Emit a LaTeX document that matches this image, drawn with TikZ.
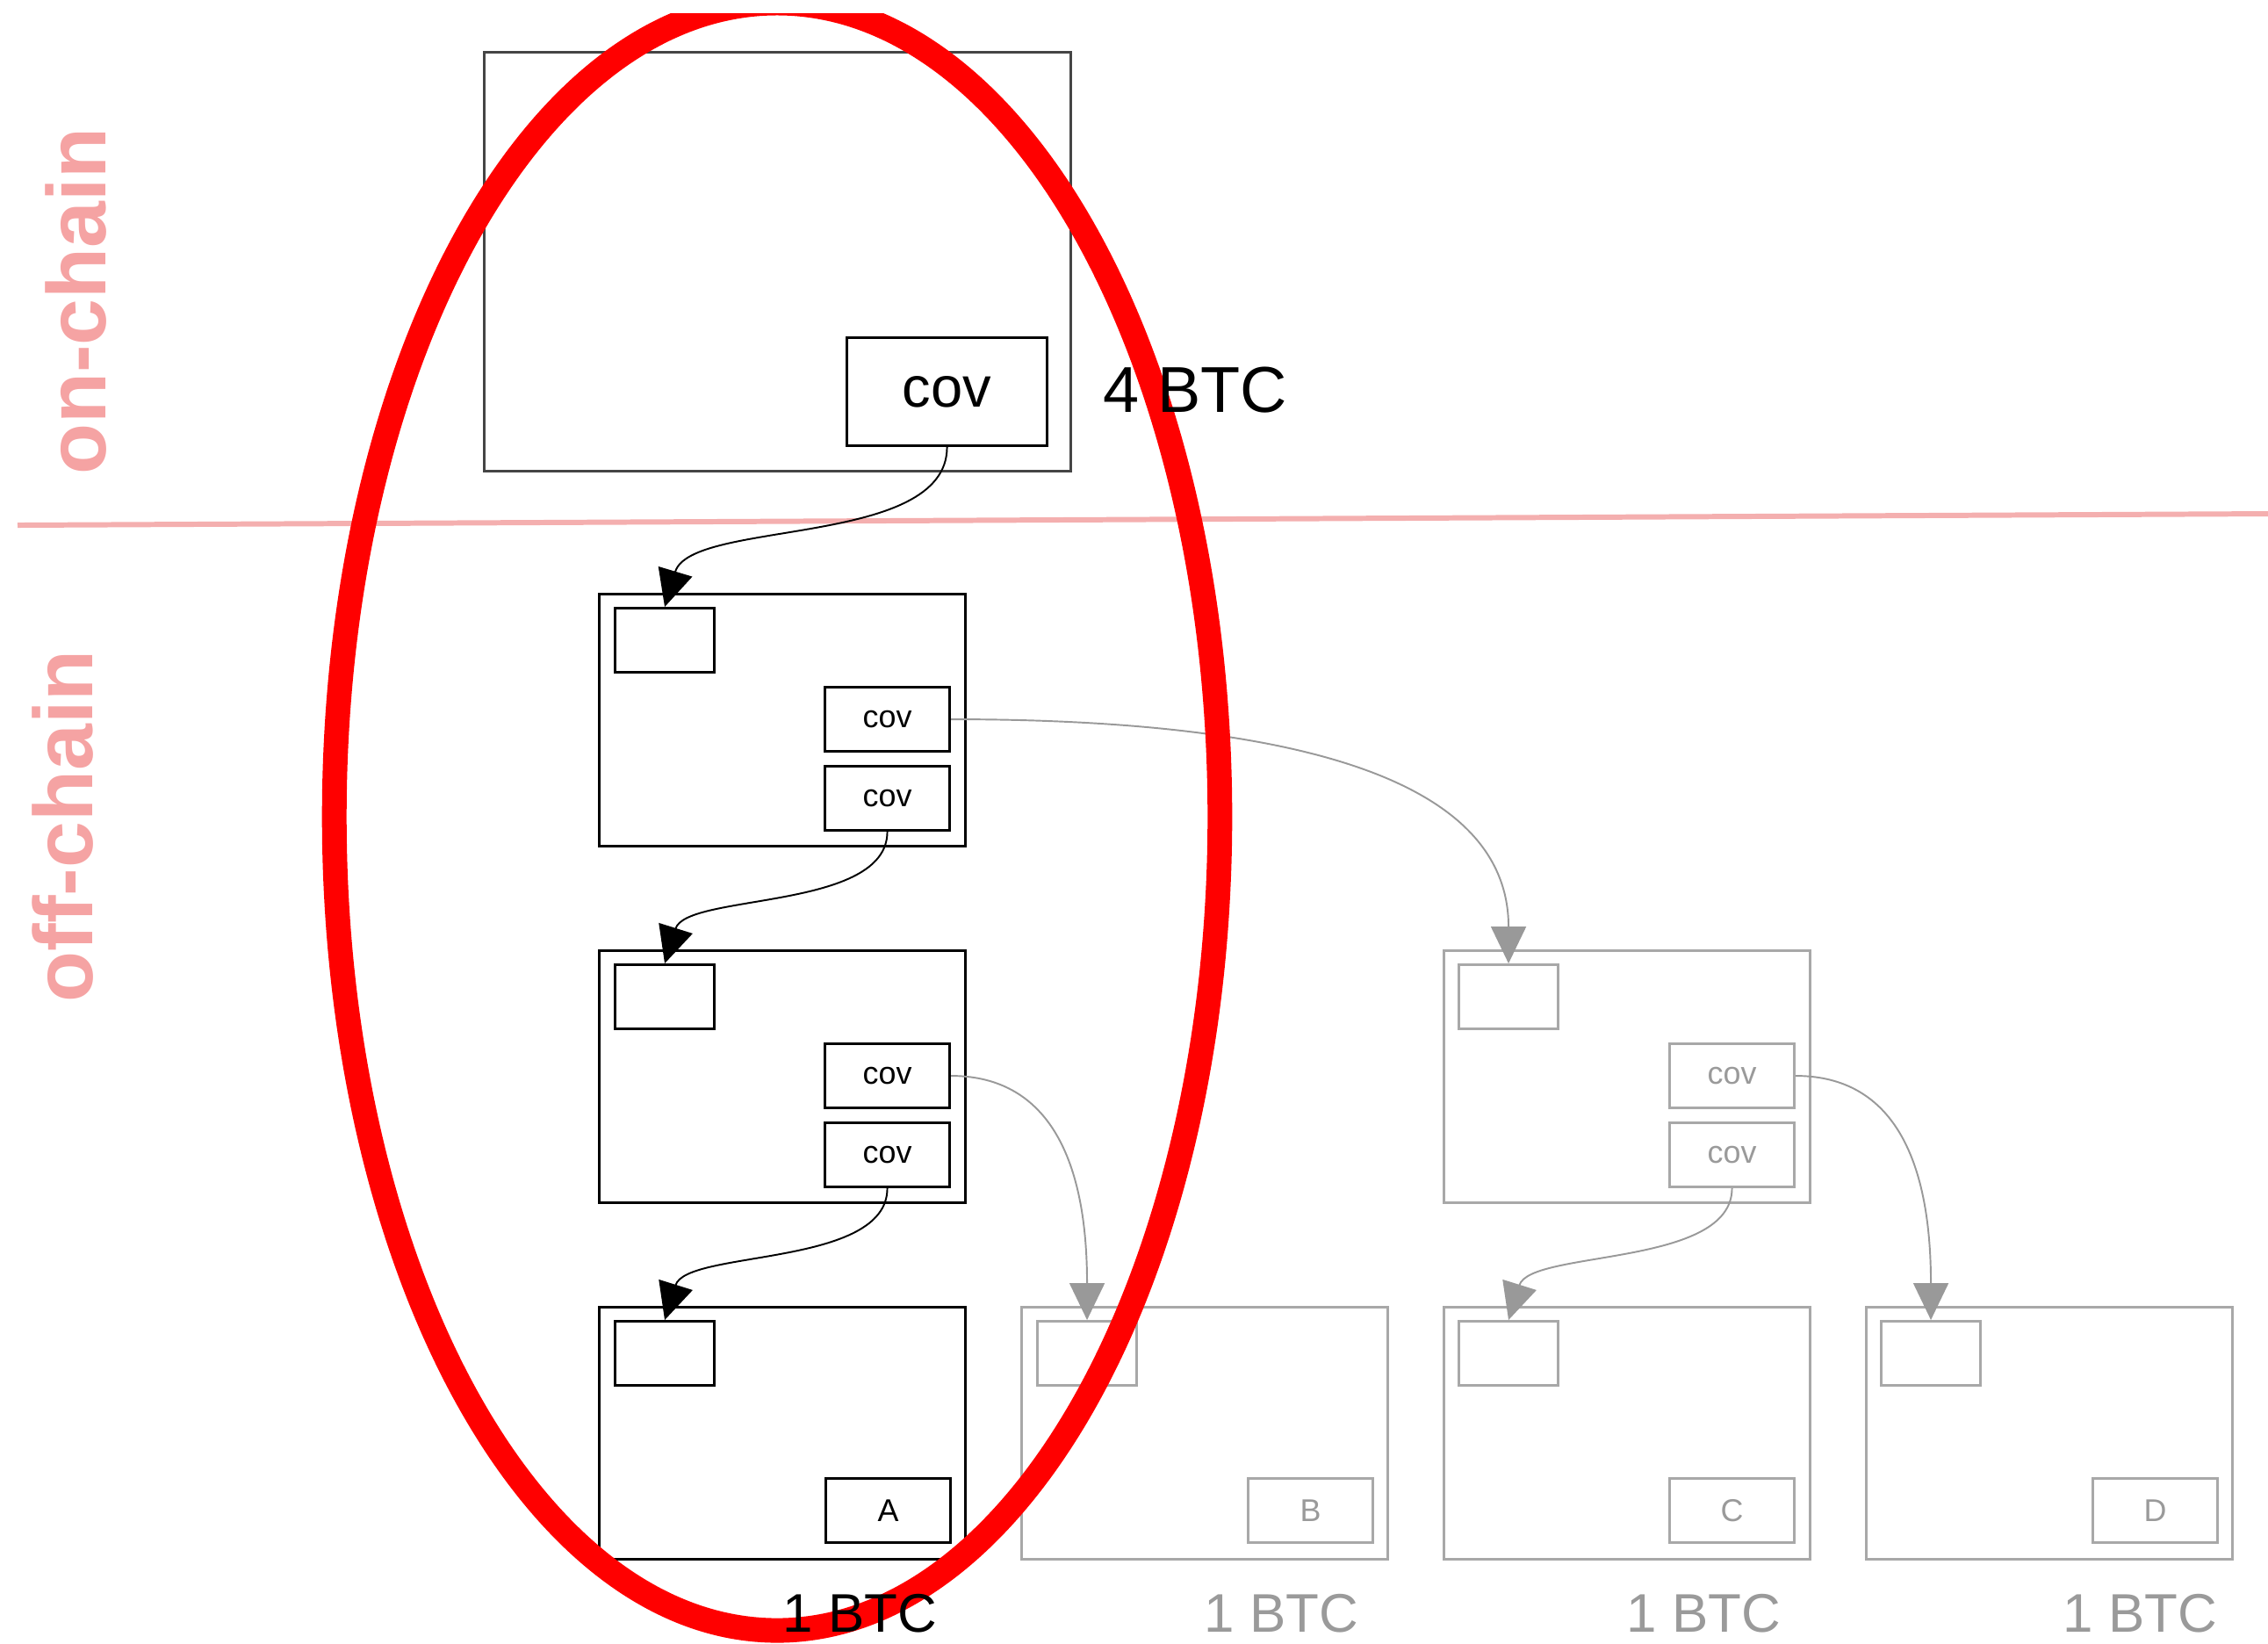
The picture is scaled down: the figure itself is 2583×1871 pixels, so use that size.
\documentclass[tikz,border=0pt]{standalone}
\usepackage{fontspec}
\setmainfont{Liberation Sans}
\usetikzlibrary{arrows.meta}
\definecolor{ghost}{HTML}{A8A8A8}
\definecolor{ghosttext}{HTML}{9A9A9A}
\definecolor{ghostarrow}{HTML}{999999}
\definecolor{chainlabel}{HTML}{F5A3A3}
\definecolor{chainline}{HTML}{F4AFAF}
\definecolor{topedge}{HTML}{454545}
\tikzset{
  box/.style={draw=black, line width=0.85pt, inner sep=0pt, anchor=north west},
  gbox/.style={draw=ghost, line width=0.85pt, inner sep=0pt, anchor=north west},
  bigbox/.style={minimum width=4.17cm, minimum height=2.87cm},
  slot/.style={minimum width=1.13cm, minimum height=0.73cm},
  covbox/.style={minimum width=1.42cm, minimum height=0.73cm, font=\fontsize{10.2pt}{12pt}\selectfont},
  link/.style={line width=0.55pt, -{Triangle[length=0.42cm, width=0.4cm]}},
  glink/.style={link, draw=ghostarrow, -{Triangle[length=0.42cm, width=0.4cm, color=ghostarrow]}},
  btc/.style={anchor=base west, inner sep=0pt, font=\fontsize{17.6pt}{20pt}\selectfont},
  chain/.style={rotate=90, anchor=base, inner sep=0pt, text=chainlabel, font=\fontsize{27pt}{30pt}\selectfont\bfseries}
}
\begin{document}
\begin{tikzpicture}[x=0.01cm, y=-0.01cm]
\useasboundingbox (0,0) rectangle (2583,1871);

% side labels and separator
\node[chain] (on) at (120,343) {on-chain};
\node[chain] (off) at (105,941) {off-chain};
\coordinate (sepL) at (20,598);
\coordinate (sepR) at (2583,585);
\draw[chainline, line width=1.7pt] (sepL) -- (sepR);

% on-chain box
\node[box, draw=topedge, minimum width=6.68cm, minimum height=4.77cm] (T) at (550,58) {};
\node[box, minimum width=2.28cm, minimum height=1.23cm, font=\fontsize{18.5pt}{20pt}\selectfont] (Tcov) at (963,383) {cov};

% level 1
\node[box, bigbox] (L1) at (681,675) {};
\node[box, slot] (L1s) at (699,691) {};
\node[box, covbox] (L1c1) at (938,781) {cov};
\node[box, covbox] (L1c2) at (938,871) {cov};

% level 2
\node[box, bigbox] (L2) at (681,1081) {};
\node[box, slot] (L2s) at (699,1097) {};
\node[box, covbox] (L2c1) at (938,1187) {cov};
\node[box, covbox] (L2c2) at (938,1277) {cov};

\node[gbox, bigbox] (R2) at (1643,1081) {};
\node[gbox, slot] (R2s) at (1660,1097) {};
\node[gbox, covbox, text=ghosttext] (R2c1) at (1900,1187) {cov};
\node[gbox, covbox, text=ghosttext] (R2c2) at (1900,1277) {cov};

% leaves
\node[box, bigbox] (A) at (681,1487) {};
\node[box, slot] (As) at (699,1503) {};
\node[box, covbox] (Av) at (939,1682) {A};

\node[gbox, bigbox] (B) at (1162,1487) {};
\node[gbox, slot] (Bs) at (1180,1503) {};
\node[gbox, covbox, text=ghosttext] (Bv) at (1420,1682) {B};

\node[gbox, bigbox] (C) at (1643,1487) {};
\node[gbox, slot] (Cs) at (1660,1503) {};
\node[gbox, covbox, text=ghosttext] (Cv) at (1900,1682) {C};

\node[gbox, bigbox] (D) at (2124,1487) {};
\node[gbox, slot] (Ds) at (2141,1503) {};
\node[gbox, covbox, text=ghosttext] (Dv) at (2382,1682) {D};

% connectors
\draw[link] (Tcov.south) .. controls ([yshift=-1.15cm]Tcov.south) and ([xshift=0.3cm, yshift=1.0cm]L1s.north) .. (L1s.north);
\draw[link] (L1c2.south) .. controls ([yshift=-0.9cm]L1c2.south) and ([xshift=0.25cm, yshift=0.8cm]L2s.north) .. (L2s.north);
\draw[link] (L2c2.south) .. controls ([yshift=-0.9cm]L2c2.south) and ([xshift=0.25cm, yshift=0.8cm]As.north) .. (As.north);

\draw[glink] (L1c1.east) .. controls ([xshift=4.2cm]L1c1.east) and ([yshift=2.0cm]R2s.north) .. (R2s.north);
\draw[glink] (L2c1.east) .. controls ([xshift=1.0cm]L2c1.east) and ([yshift=2.0cm]Bs.north) .. (Bs.north);
\draw[glink] (R2c2.south) .. controls ([yshift=-0.9cm]R2c2.south) and ([xshift=0.25cm, yshift=0.8cm]Cs.north) .. (Cs.north);
\draw[glink] (R2c1.east) .. controls ([xshift=1.0cm]R2c1.east) and ([yshift=2.0cm]Ds.north) .. (Ds.north);

% highlight (clipped at the top like the reference)
\begin{scope}
  \clip (0,15) rectangle (2583,1871);
  \draw[red, line width=0.28cm] (885,930) ellipse [x radius=5.04cm, y radius=9.26cm];
\end{scope}

% amounts
\node[btc, font=\fontsize{21pt}{24pt}\selectfont] (amtT) at (1256,469) {4 BTC};
\node[btc] (amtA) at (891,1858) {1 BTC};
\node[btc, text=ghosttext] (amtB) at (1371,1858) {1 BTC};
\node[btc, text=ghosttext] (amtC) at (1852,1858) {1 BTC};
\node[btc, text=ghosttext] (amtD) at (2349,1858) {1 BTC};
\end{tikzpicture}
\end{document}
